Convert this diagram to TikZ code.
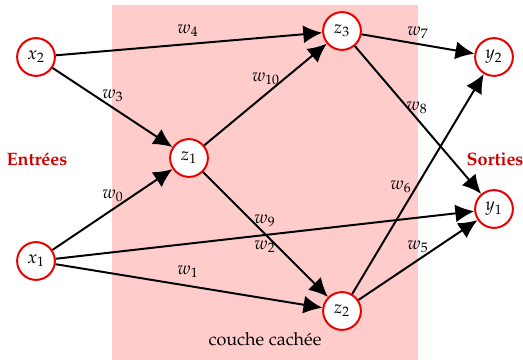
\documentclass[tikz,border=0pt]{standalone}
\usepackage[T1]{fontenc}
\usepackage{mathpazo}
\usetikzlibrary{arrows.meta}
\definecolor{pinkbg}{RGB}{255,204,204}
\definecolor{nred}{RGB}{235,0,0}
\definecolor{tred}{RGB}{204,0,0}
\tikzset{
  neuron/.style={circle, draw=nred, line width=1.1pt, fill=white, minimum size=21pt, inner sep=0pt},
  conn/.style={-{Latex[length=10.5pt,width=10pt]}, line width=1.1pt, black},
  wlab/.style={inner sep=0pt},
  side/.style={text=tred, font=\bfseries, inner sep=0pt}
}
\begin{document}
\begin{tikzpicture}[x=0.556pt, y=-0.556pt]
\useasboundingbox (0,0) rectangle (523,360);
\fill[pinkbg] (112,5) rectangle (418,360);
\node[neuron] (x2) at (36,57) {$x_2$};
\node[neuron] (x1) at (36,261) {$x_1$};
\node[neuron] (z1) at (189,158) {$z_1$};
\node[neuron] (z3) at (342,31) {$z_3$};
\node[neuron] (z2) at (342,311) {$z_2$};
\node[neuron] (y2) at (494,57) {$y_2$};
\node[neuron] (y1) at (494,209) {$y_1$};
\draw[conn] (x2) -- (z3);
\draw[conn] (x2) -- (z1);
\draw[conn] (x1) -- (z1);
\draw[conn] (x1) -- (y1);
\draw[conn] (x1) -- (z2);
\draw[conn] (z1) -- (z3);
\draw[conn] (z1) -- (z2);
\draw[conn] (z3) -- (y2);
\draw[conn] (z3) -- (y1);
\draw[conn] (z2) -- (y2);
\draw[conn] (z2) -- (y1);
\node[wlab] (w4) at (188,31) {$w_4$};
\node[wlab] (w3) at (113,96) {$w_3$};
\node[wlab] (w10) at (266,79) {$w_{10}$};
\node[wlab] (w7) at (418,33) {$w_7$};
\node[wlab] (w8) at (417,108) {$w_8$};
\node[wlab] (w0) at (113,196) {$w_0$};
\node[wlab] (w9) at (265,221) {$w_9$};
\node[wlab] (w2) at (265,247) {$w_2$};
\node[wlab] (w1) at (188,272) {$w_1$};
\node[wlab] (w6) at (401,187) {$w_6$};
\node[wlab] (w5) at (418,247) {$w_5$};
\node[side] (ent) at (37,159) {Entrées};
\node[side] (sor) at (495,159) {Sorties};
\node[inner sep=0pt] (cc) at (265,339) {couche cachée};
\end{tikzpicture}
\end{document}
